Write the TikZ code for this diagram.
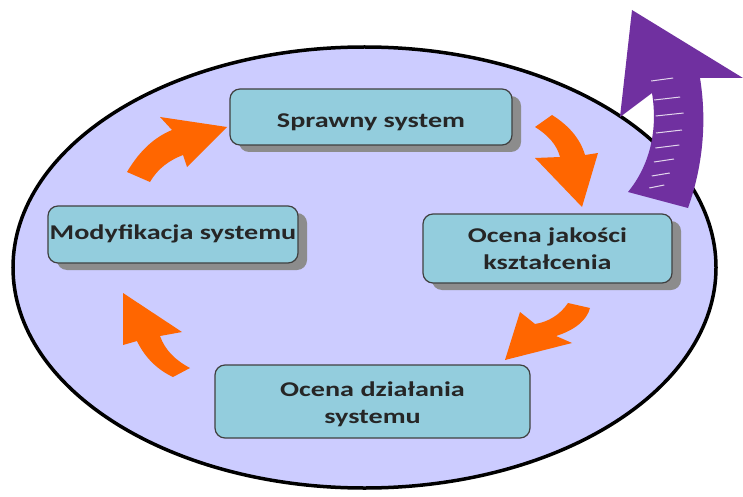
\documentclass[tikz,border=0pt]{standalone}
\usepackage{fontspec}
\setmainfont{Carlito}
\usetikzlibrary{shadows}
\definecolor{ellfill}{HTML}{CCCCFF}
\definecolor{boxfill}{HTML}{93CDDD}
\definecolor{boxline}{HTML}{404040}
\definecolor{arrorange}{HTML}{FF6600}
\definecolor{arrpurple}{HTML}{7030A0}
\newcommand\stagetext[2][0pt]{\raisebox{#1}[\height][\depth]{\scalebox{1.34}[1]{\begin{tabular}{@{}c@{}}#2\end{tabular}}}}
\tikzset{
    stage/.style={draw=boxline, line width=1.2pt, fill=boxfill, rounded corners=10pt,
        align=center, text=black!85, font=\fontsize{21}{27}\selectfont\bfseries,
        inner sep=0pt},
    shade/.style={drop shadow={shadow xshift=9pt, shadow yshift=-7pt, fill=black!45, opacity=1}},
    tick/.style={white, line width=1pt, opacity=0.8}
}
\begin{document}
\begin{tikzpicture}[x=1pt,y=-1pt]
    \useasboundingbox (0,0) rectangle (743,497);
    % background ellipse
    \draw[fill=ellfill, line width=3.5pt] (364.5,267.5) ellipse [x radius=351.5pt, y radius=220.5pt];
    % stages
    \node[stage, shade, minimum width=282pt, minimum height=56pt] (spr) at (371,117) {\stagetext[-5pt]{Sprawny system}};
    \node[stage, shade, minimum width=249pt, minimum height=69pt] (ocj) at (547.5,248.5) {\stagetext[-2pt]{Ocena jakości\\kształcenia}};
    \node[stage, shade, minimum width=250pt, minimum height=57pt] (mod) at (173,234.5) {\stagetext{Modyfikacja systemu}};
    \node[stage, minimum width=315pt, minimum height=73pt] (ocd) at (372.5,401.5) {\stagetext[-3pt]{Ocena działania\\systemu}};
    % orange cycle arrows
    \fill[arrorange] (127,172) .. controls (140,150) and (155,137) .. (172,130) -- (160,117) -- (227,127)
        -- (187,167) -- (183,155) .. controls (170,160) and (158,168) .. (150,182) -- cycle;
    \fill[arrorange] (552,115) .. controls (568,125) and (580,138) .. (585,155) -- (598,153) -- (582,207)
        -- (535,158) -- (560,157) .. controls (557,145) and (548,135) .. (535,127) -- cycle;
    \fill[arrorange] (568,303) .. controls (560,315) and (548,322) .. (535,324) -- (520,312) -- (505,360)
        -- (572,343) -- (556,336) .. controls (575,330) and (587,320) .. (590,308) -- cycle;
    \fill[arrorange] (190,368) .. controls (175,360) and (165,350) .. (160,336) -- (182,332) -- (123,293)
        -- (123,345) -- (137,341) .. controls (145,358) and (158,370) .. (173,377) -- cycle;
    % ticks on the orange arrows
    \foreach \a/\b/\c/\d in {147,168,153,173, 158,157,164,163, 170,148,175,154, 185,140,188,145,
            541,131,548,128, 549,140,556,137, 554,150,561,148, 556,161,563,160, 560,171,566,171,
            570,312,577,316, 562,320,568,325, 552,326,556,331,
            160,345,167,342, 168,355,175,351, 178,363,184,360} {
        \draw[tick] (\a,\b) -- (\c,\d);
    }
    % way out
    \fill[arrpurple] (628,192) -- (688,208) .. controls (705,160) and (706,115) .. (700,78) -- (743,78)
        -- (632,10) -- (620,117) -- (652,93) .. controls (658,130) and (650,165) .. (628,192) -- cycle;
    \foreach \y/\l in {81/22, 100/26, 116/28, 133/26, 148/24, 162/20, 176/18, 188/15} {
        \draw[tick] ({656-0.002*(\y-130)*(\y-130)},\y) -- ++(\l,-3);
    }
\end{tikzpicture}
\end{document}
